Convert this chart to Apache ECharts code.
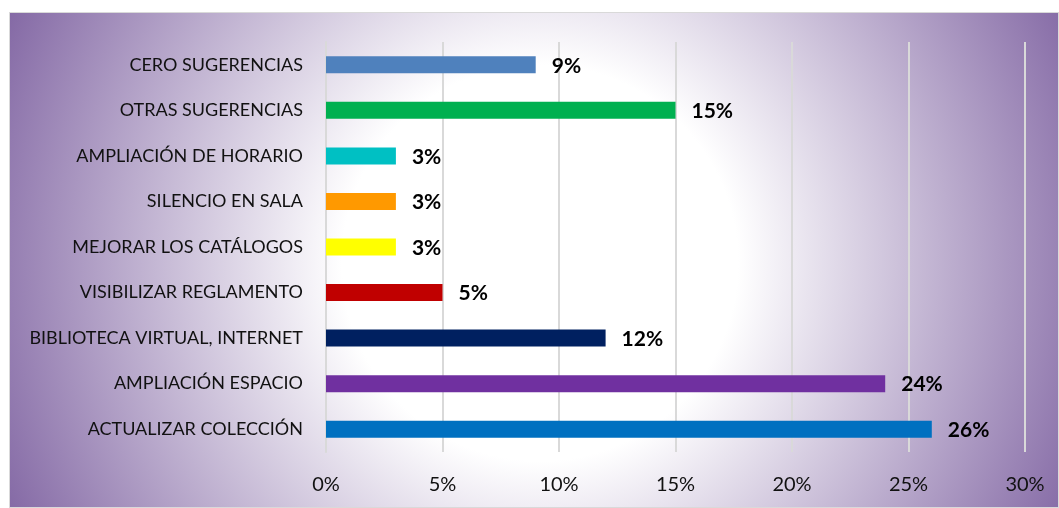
<!DOCTYPE html>
<html>
<head>
<meta charset="utf-8">
<script src="https://cdn.jsdelivr.net/npm/echarts@6/dist/echarts.min.js"></script>
<style>
  html, body { margin: 0; padding: 0; background: #ffffff; }
  #frame {
    position: absolute;
    left: 9px; top: 12px;
    width: 1050px; height: 496px;
    box-sizing: border-box;
    border: 1px solid #d9d9d9;
    background: radial-gradient(circle 600px at 530px 250px, #ffffff 0%, #ffffff 33%, #8064a2 100%);
  }
  #chart { width: 100%; height: 100%; }
</style>
</head>
<body>
<div id="frame"><div id="chart"></div></div>
<script>
// Suggestion categories, listed from top to bottom
const categories = [
  'CERO SUGERENCIAS',
  'OTRAS SUGERENCIAS',
  'AMPLIACIÓN DE HORARIO',
  'SILENCIO EN SALA',
  'MEJORAR LOS CATÁLOGOS',
  'VISIBILIZAR REGLAMENTO',
  'BIBLIOTECA VIRTUAL, INTERNET',
  'AMPLIACIÓN ESPACIO',
  'ACTUALIZAR COLECCIÓN'
];
// Share of responses (%)
const values = [9, 15, 3, 3, 3, 5, 12, 24, 26];
// One colour per bar
const barColors = ['#4f81bd', '#00b050', '#00c0c3', '#ff9900', '#ffff00', '#c00000', '#002060', '#7030a0', '#0070c0'];
// Value axis ticks
const axisMin = 0, axisMax = 30, axisStep = 5;

const FONT = 'Lato, "Open Sans", sans-serif';

const chart = echarts.init(document.getElementById('chart'), null, { renderer: 'canvas' });
chart.setOption({
  backgroundColor: 'transparent',
  animation: false,
  grid: { left: 316, right: 33, top: 29, bottom: 55, containLabel: false },
  xAxis: {
    type: 'value',
    min: axisMin, max: axisMax, interval: axisStep,
    axisLine: { show: false },
    axisTick: { show: false },
    axisLabel: {
      formatter: '{value}%',
      color: '#111111',
      fontFamily: FONT,
      fontSize: 20,
      margin: 23
    },
    splitLine: { show: true, lineStyle: { color: '#d9d9d9', width: 2 } }
  },
  yAxis: {
    type: 'category',
    data: categories,
    inverse: true,
    axisLine: { show: true, lineStyle: { color: '#d9d9d9', width: 2 } },
    axisTick: { show: false },
    axisLabel: {
      color: '#111111',
      fontFamily: FONT,
      fontSize: 18,
      margin: 23
    }
  },
  series: [{
    type: 'bar',
    barWidth: 17,
    data: values.map((v, i) => ({ value: v, itemStyle: { color: barColors[i] } })),
    label: {
      show: true,
      position: 'right',
      distance: 16,
      formatter: '{c}%',
      color: '#000000',
      fontFamily: FONT,
      fontWeight: 'bold',
      fontSize: 21,
      offset: [0, 1]
    }
  }]
});
</script>
</body>
</html>
